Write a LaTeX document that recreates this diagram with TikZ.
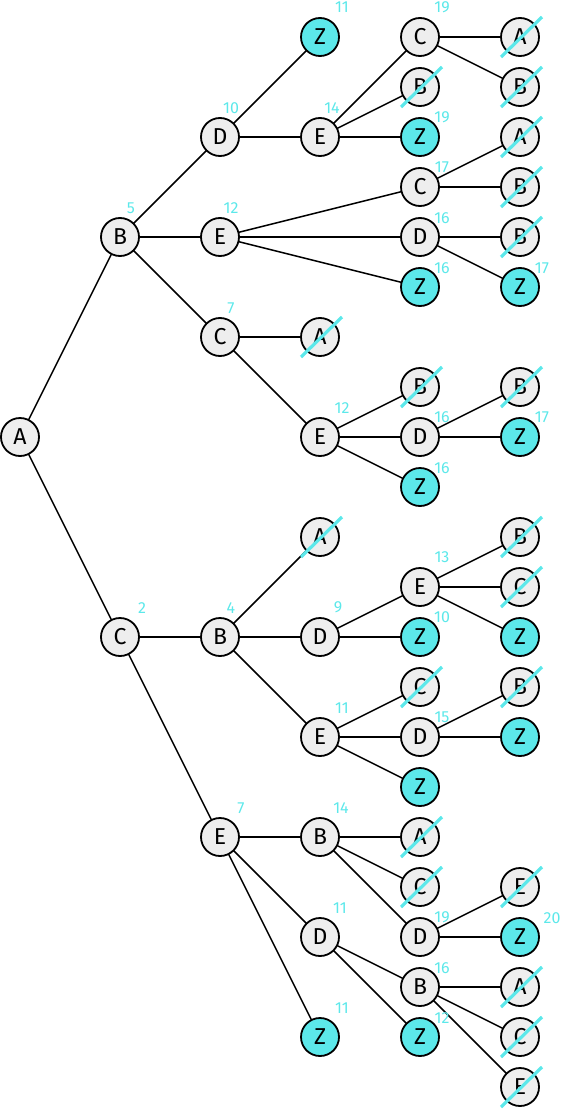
\documentclass[tikz,border=0pt]{standalone}
\usepackage{fontspec}
\setmainfont{Fira Sans}
\definecolor{cy}{RGB}{92,232,234}
\definecolor{nodegray}{RGB}{238,238,238}
\tikzset{
  nd/.style={circle,draw=black,line width=1.8pt,fill=nodegray,minimum size=38pt,inner sep=0pt,font=\fontsize{23}{23}\selectfont},
  zn/.style={nd,fill=cy},
  num/.style={text=cy,font=\fontsize{16}{16}\selectfont,inner sep=0pt},
  edge/.style={line width=1.5pt,black},
  crossln/.style={cy,line width=3.2pt}
}
\newcommand{\xnode}[3]{\node[nd] (#1) at #2 {#3};
  \draw[crossln] ([xshift=-19pt,yshift=-20pt]#1.center) -- ([xshift=22pt,yshift=20pt]#1.center);}
\newcommand{\lab}[4]{\node[num] at ([xshift=#2pt,yshift=#3pt]#1.center) {#4};}
\begin{document}
\begin{tikzpicture}[x=1pt,y=-1pt]
\useasboundingbox (0,0) rectangle (560,1110);
% coordinates for edges (drawn first)
\foreach \n/\x/\y in {a/20/437,b1/120/237,c1/120/637,
  d2/220/137,e2/220/237,c2/220/337,b2/220/637,e2b/220/837,
  z3a/320/37,e3a/320/137,a3a/320/337,e3b/320/437,a3b/320/537,d3b/320/637,e3c/320/737,b3c/320/837,d3c/320/937,z3c/320/1037,
  c4a/420/37,b4a/420/87,z4a/420/137,c4b/420/187,d4b/420/237,z4b/420/287,b4c/420/387,d4c/420/437,z4c/420/487,
  e4d/420/587,z4d/420/637,c4e/420/687,d4e/420/737,z4e/420/787,a4f/420/837,c4f/420/887,d4f/420/937,b4g/420/987,z4g/420/1037,
  a5a/520/37,b5a/520/87,a5b/520/137,b5b/520/187,b5c/520/237,z5c/520/287,b5d/520/387,z5d/520/437,
  b5e/520/537,c5e/520/587,z5e/520/637,b5f/520/687,z5f/520/737,e5g/520/887,z5g/520/937,a5h/520/987,c5h/520/1037,e5h/520/1087}
  {\coordinate (p\n) at (\x,\y);}
\foreach \s/\t in {a/b1,a/c1,b1/d2,b1/e2,b1/c2,d2/z3a,d2/e3a,e3a/c4a,e3a/b4a,e3a/z4a,c4a/a5a,c4a/b5a,
  e2/c4b,e2/d4b,e2/z4b,c4b/a5b,c4b/b5b,d4b/b5c,d4b/z5c,c2/a3a,c2/e3b,e3b/b4c,e3b/d4c,e3b/z4c,d4c/b5d,d4c/z5d,
  c1/b2,c1/e2b,b2/a3b,b2/d3b,b2/e3c,d3b/e4d,d3b/z4d,e4d/b5e,e4d/c5e,e4d/z5e,e3c/c4e,e3c/d4e,e3c/z4e,d4e/b5f,d4e/z5f,
  e2b/b3c,e2b/d3c,e2b/z3c,b3c/a4f,b3c/c4f,b3c/d4f,d4f/e5g,d4f/z5g,d3c/b4g,d3c/z4g,b4g/a5h,b4g/c5h,b4g/e5h}
  {\draw[edge] (p\s) -- (p\t);}
% nodes
\node[nd] (a) at (pa) {A};
\node[nd] (b1) at (pb1) {B};
\node[nd] (c1) at (pc1) {C};
\node[nd] (d2) at (pd2) {D};
\node[nd] (e2) at (pe2) {E};
\node[nd] (c2) at (pc2) {C};
\node[nd] (b2) at (pb2) {B};
\node[nd] (e2b) at (pe2b) {E};
\node[zn] (z3a) at (pz3a) {Z};
\node[nd] (e3a) at (pe3a) {E};
\xnode{a3a}{(pa3a)}{A}
\node[nd] (e3b) at (pe3b) {E};
\xnode{a3b}{(pa3b)}{A}
\node[nd] (d3b) at (pd3b) {D};
\node[nd] (e3c) at (pe3c) {E};
\node[nd] (b3c) at (pb3c) {B};
\node[nd] (d3c) at (pd3c) {D};
\node[zn] (z3c) at (pz3c) {Z};
\node[nd] (c4a) at (pc4a) {C};
\xnode{b4a}{(pb4a)}{B}
\node[zn] (z4a) at (pz4a) {Z};
\node[nd] (c4b) at (pc4b) {C};
\node[nd] (d4b) at (pd4b) {D};
\node[zn] (z4b) at (pz4b) {Z};
\xnode{b4c}{(pb4c)}{B}
\node[nd] (d4c) at (pd4c) {D};
\node[zn] (z4c) at (pz4c) {Z};
\node[nd] (e4d) at (pe4d) {E};
\node[zn] (z4d) at (pz4d) {Z};
\xnode{c4e}{(pc4e)}{C}
\node[nd] (d4e) at (pd4e) {D};
\node[zn] (z4e) at (pz4e) {Z};
\xnode{a4f}{(pa4f)}{A}
\xnode{c4f}{(pc4f)}{C}
\node[nd] (d4f) at (pd4f) {D};
\node[nd] (b4g) at (pb4g) {B};
\node[zn] (z4g) at (pz4g) {Z};
\xnode{a5a}{(pa5a)}{A}
\xnode{b5a}{(pb5a)}{B}
\xnode{a5b}{(pa5b)}{A}
\xnode{b5b}{(pb5b)}{B}
\xnode{b5c}{(pb5c)}{B}
\node[zn] (z5c) at (pz5c) {Z};
\xnode{b5d}{(pb5d)}{B}
\node[zn] (z5d) at (pz5d) {Z};
\xnode{b5e}{(pb5e)}{B}
\xnode{c5e}{(pc5e)}{C}
\node[zn] (z5e) at (pz5e) {Z};
\xnode{b5f}{(pb5f)}{B}
\node[zn] (z5f) at (pz5f) {Z};
\xnode{e5g}{(pe5g)}{E}
\node[zn] (z5g) at (pz5g) {Z};
\xnode{a5h}{(pa5h)}{A}
\xnode{c5h}{(pc5h)}{C}
\xnode{e5h}{(pe5h)}{E}
% labels
\lab{b1}{11}{29}{5}
\lab{d2}{11}{29}{10}
\lab{e2}{11}{29}{12}
\lab{c2}{11}{29}{7}
\lab{z3a}{22}{30}{11}
\lab{e3a}{12}{29}{14}
\lab{c4a}{22}{30}{19}
\lab{z4a}{22}{20}{19}
\lab{c4b}{22}{20}{17}
\lab{d4b}{22}{19}{16}
\lab{z4b}{22}{19}{16}
\lab{z5c}{22}{19}{17}
\lab{e3b}{22}{29}{12}
\lab{d4c}{22}{20}{16}
\lab{z5d}{22}{20}{17}
\lab{z4c}{22}{19}{16}
\lab{c1}{22}{29}{2}
\lab{b2}{11}{29}{4}
\lab{d3b}{18}{30}{9}
\lab{e4d}{22}{30}{13}
\lab{z4d}{22}{20}{10}
\lab{e3c}{22}{29}{11}
\lab{d4e}{22}{20}{15}
\lab{e2b}{21}{29}{7}
\lab{b3c}{21}{29}{14}
\lab{d3c}{20}{29}{11}
\lab{z3c}{22}{29}{11}
\lab{d4f}{22}{20}{19}
\lab{z5g}{32}{19}{20}
\lab{b4g}{22}{19}{16}
\lab{z4g}{22}{19}{12}
\end{tikzpicture}
\end{document}
